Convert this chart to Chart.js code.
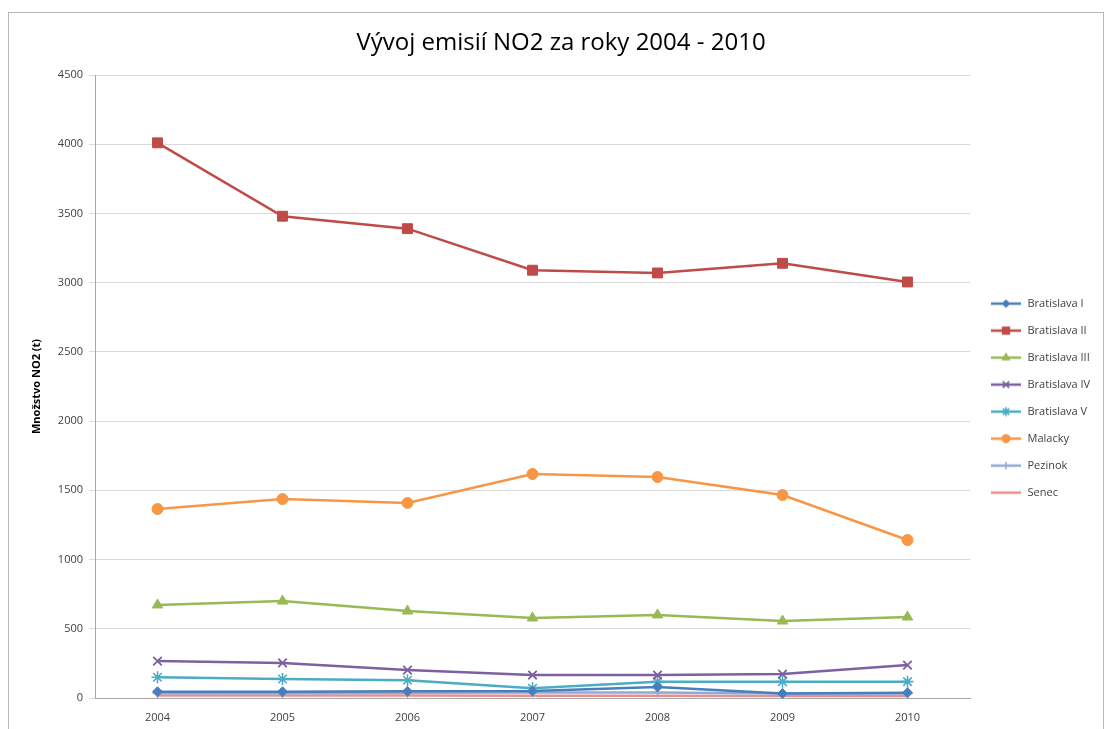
<!DOCTYPE html>
<html lang="sk">
<head>
<meta charset="utf-8">
<title>Vývoj emisií NO2</title>
<script src="https://cdn.jsdelivr.net/npm/chart.js@4.4.1/dist/chart.umd.min.js"></script>
<style>
  html, body { margin: 0; padding: 0; background: #fff; overflow: hidden; }
  .frame {
    position: absolute; left: 8px; top: 12px; width: 1094px; height: 760px;
    border: 1px solid #b8b8b8; box-shadow: 1px 1px 2px rgba(0,0,0,0.15);
  }
  .wrap { position: absolute; left: 0; top: 0; width: 1104px; height: 729px; }
</style>
</head>
<body>
<div class="frame"></div>
<div class="wrap"><canvas id="no2Chart" width="1104" height="729"></canvas></div>
<script>
/* NO2 emissions by district, 2004–2010 */

const YEARS = ["2004", "2005", "2006", "2007", "2008", "2009", "2010"];

const BA1     = [45, 45, 48, 50, 80, 32, 38];
const BA2     = [4010, 3480, 3390, 3090, 3070, 3140, 3005];
const BA3     = [672, 700, 628, 578, 600, 556, 585];
const BA4     = [267, 253, 202, 166, 166, 173, 238];
const BA5     = [150, 137, 128, 70, 118, 118, 118];
const MALACKY = [1365, 1437, 1409, 1618, 1596, 1466, 1141];
const PEZINOK = [35, 35, 38, 40, 40, 32, 32];
const SENEC   = [18, 18, 18, 16, 16, 14, 14];

const Y_MAX  = 4500;
const Y_STEP = 500;

const FONT = "'Open Sans', 'Noto Sans', sans-serif";

// ── Legend icons: short line with the series marker ─────────────────────────
function legendIcon(color, style, radius, lw) {
  const c = document.createElement("canvas");
  c.width = 36; c.height = 14;
  const g = c.getContext("2d");
  g.strokeStyle = color;
  g.lineWidth = 2.5;
  g.beginPath(); g.moveTo(5, 7); g.lineTo(35, 7); g.stroke();
  if (style) {
    g.fillStyle = color;
    g.lineWidth = lw;
    Chart.helpers.drawPoint(g, { pointStyle: style, radius: radius, rotation: 0, borderWidth: lw }, 20, 7);
  }
  return c;
}

function series(label, data, color, style, radius, lw) {
  return {
    label, data,
    borderColor: color,
    backgroundColor: color,
    borderWidth: 2.5,
    pointStyle: style || "circle",
    pointRadius: style ? radius : 0,
    pointHoverRadius: style ? radius : 0,
    pointBorderWidth: lw,
    pointBackgroundColor: color,
    pointBorderColor: color,
    tension: 0,
    _icon: legendIcon(color, style, radius * 0.75, lw),
  };
}

const datasets = [
  series("Bratislava I",   BA1,     "#4A7EBB", "rectRot",  5,   1),
  series("Bratislava II",  BA2,     "#BE4B48", "rect",     7,   1),
  series("Bratislava III", BA3,     "#98B954", "triangle", 6,   1),
  series("Bratislava IV",  BA4,     "#7D60A0", "crossRot", 6,   1.8),
  series("Bratislava V",   BA5,     "#4BACC6", "star",     6,   1.6),
  series("Malacky",        MALACKY, "#F79646", "circle",   5.5, 1),
  series("Pezinok",        PEZINOK, "#8EAADB", "cross",    5,   1.5),
  series("Senec",          SENEC,   "#E6908E", null,       0,   1),
];

// nudge the title a little right of the canvas centre
const titleShift = {
  id: "titleShift",
  afterLayout(chart) {
    chart.titleBlock.left += 26;
  },
};

const ctx = document.getElementById("no2Chart").getContext("2d");
new Chart(ctx, {
  type: "line",
  data: { labels: YEARS, datasets },
  plugins: [titleShift],
  options: {
    responsive: false,
    animation: false,
    layout: { padding: { top: 12, left: 0, right: 8, bottom: 0 } },
    plugins: {
      tooltip: { enabled: false },
      title: {
        display: true,
        text: "Vývoj emisií NO2 za roky 2004 - 2010",
        color: "#000",
        font: { family: FONT, size: 24, weight: "normal" },
        padding: { top: 16.6, bottom: 17.6 },
      },
      legend: {
        position: "right",
        maxWidth: 126,
        title: { display: true, text: "", font: { size: 1 }, padding: { top: 27, bottom: 27 } },
        labels: {
          usePointStyle: true,
          pointStyleWidth: 36,
          padding: 16,
          color: "#404040",
          font: { family: FONT, size: 11 },
          generateLabels: chart => chart.data.datasets.map((ds, i) => ({
            text: ds.label,
            pointStyle: ds._icon,
            fillStyle: ds.borderColor,
            strokeStyle: ds.borderColor,
            lineWidth: 0,
            hidden: false,
            datasetIndex: i,
            fontColor: "#404040",
          })),
        },
      },
    },
    scales: {
      x: {
        offset: true,
        grid: { display: false, drawTicks: true, tickLength: 5 },
        border: { color: "#a6a6a6", width: 1 },
        ticks: { color: "#404040", padding: 8, font: { family: FONT, size: 11 } },
        afterFit: s => { s.height = 31; },
      },
      y: {
        min: 0,
        max: Y_MAX,
        grid: { color: "#d9d9d9", lineWidth: 1, tickLength: 6 },
        border: { color: "#a6a6a6", width: 1 },
        ticks: {
          stepSize: Y_STEP,
          color: "#404040",
          padding: 6,
          font: { family: FONT, size: 11 },
          callback: v => String(v),
        },
        title: {
          display: true,
          text: "Množstvo NO2 (t)",
          color: "#000",
          font: { family: FONT, size: 11, weight: "bold" },
          padding: { top: 30, bottom: 0 },
        },
        afterFit: s => { s.width = 95; },
      },
    },
  },
});
</script>
</body>
</html>
